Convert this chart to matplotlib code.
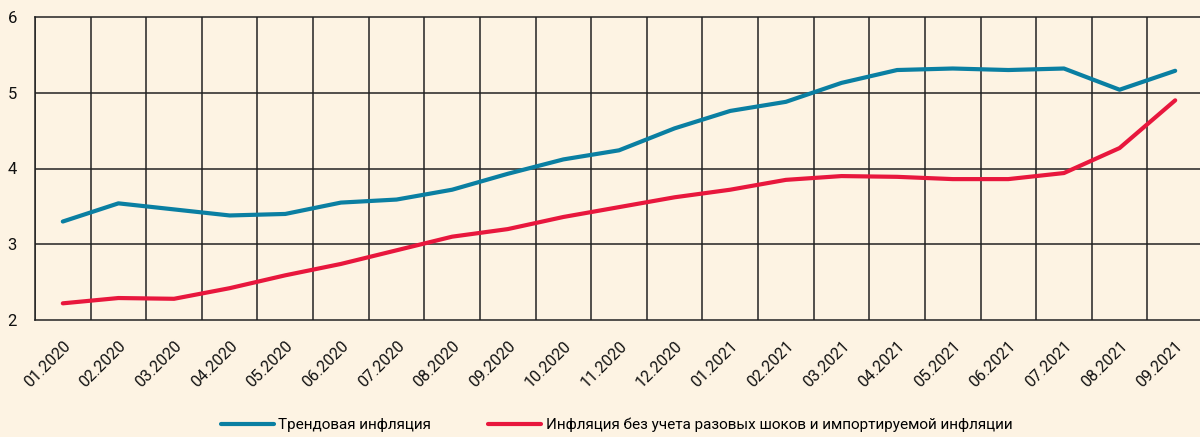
import numpy as np
import matplotlib
matplotlib.use("Agg")
import matplotlib.pyplot as plt

# monthly data, 01.2020 - 09.2021
months = ["01.2020", "02.2020", "03.2020", "04.2020", "05.2020", "06.2020", "07.2020",
          "08.2020", "09.2020", "10.2020", "11.2020", "12.2020", "01.2021", "02.2021",
          "03.2021", "04.2021", "05.2021", "06.2021", "07.2021", "08.2021", "09.2021"]
trend = [3.30, 3.54, 3.46, 3.38, 3.40, 3.55, 3.59, 3.72, 3.93, 4.12, 4.24, 4.53,
         4.76, 4.88, 5.13, 5.30, 5.32, 5.30, 5.32, 5.04, 5.29]
core = [2.22, 2.29, 2.28, 2.42, 2.59, 2.74, 2.92, 3.10, 3.20, 3.36, 3.49, 3.62,
        3.72, 3.85, 3.90, 3.89, 3.86, 3.86, 3.94, 4.27, 4.90]
labels = ["Трендовая инфляция",
          "Инфляция без учета разовых шоков и импортируемой инфляции"]

bg = "#fdf3e3"
blue = "#0a7fa2"
red = "#e8173d"

plt.rcParams['font.family'] = ['Roboto', 'DejaVu Sans']

fig = plt.figure(figsize=(12, 4.37), dpi=100, facecolor=bg)
ax = fig.add_axes([35/1200, 1 - 320/437, 1168/1200, 303/437], facecolor=bg)

x = np.arange(len(months))
ax.plot(x, trend, color=blue, lw=3, solid_capstyle="round", label=labels[0], zorder=3)
ax.plot(x, core, color=red, lw=3, solid_capstyle="round", label=labels[1], zorder=3)

ax.set_xlim(-0.5, len(months) - 0.5)
ax.set_ylim(2, 6)
ax.set_yticks([2, 3, 4, 5, 6])
ax.set_xticks(x)
ax.set_xticklabels(months, rotation=45, ha="right", rotation_mode="anchor")
ax.tick_params(axis="x", length=0, pad=13, labelsize=11.5, colors="#111")
ax.tick_params(axis="y", length=0, pad=13, labelsize=12, colors="#111")

ax.grid(False)
for v in np.arange(-0.5, len(months)):
    ax.axvline(v, color="#222", lw=1.1, zorder=1)
for h in [3, 4, 5]:
    ax.axhline(h, color="#222", lw=1.1, zorder=1)
for s in ax.spines.values():
    s.set_color("#222")
    s.set_linewidth(1.1)

leg = fig.legend(loc="center left", bbox_to_anchor=(213/1200, 1 - 425/437), ncol=2,
                 frameon=False, handlelength=3.5, handletextpad=0.28, columnspacing=3.7,
                 borderpad=0, prop={'size': 11})

fig.savefig("out.png", dpi=100, facecolor=bg)
